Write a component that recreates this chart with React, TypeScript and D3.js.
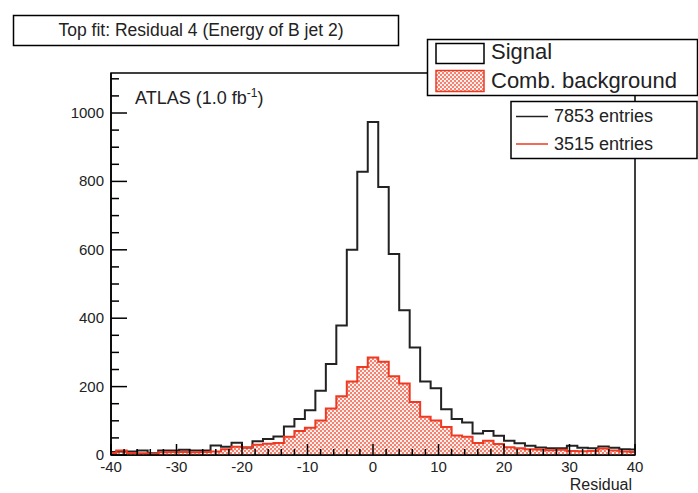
import React from "react";
import * as d3 from "d3";

// histogram: 51 bins of width 1.6, centred on -40 ... 40
const binWidth = 1.6;
const firstCenter = -40;

const signal = [
  9, 10, 10, 13, 5, 13, 13, 15, 13, 13, 28, 24, 36, 22, 40, 47, 54, 83, 105,
  131, 188, 266, 379, 600, 828, 974, 784, 588, 423, 314, 215, 195, 134, 105,
  95, 63, 70, 56, 42, 34, 27, 22, 20, 20, 27, 21, 20, 25, 21, 17, 16,
];

const background = [
  6, 13, 6, 5, 3, 8, 9, 9, 8, 9, 10, 17, 24, 22, 30, 33, 35, 53, 70, 80, 101,
  136, 172, 215, 257, 285, 273, 230, 209, 155, 112, 101, 82, 57, 53, 35, 42,
  32, 23, 20, 17, 16, 14, 15, 12, 11, 12, 19, 13, 10, 9,
];

const xMajor = [-40, -30, -20, -10, 0, 10, 20, 30, 40];
const yMajor = [0, 200, 400, 600, 800, 1000];

const titleText = "Top fit: Residual 4 (Energy of B jet 2)";
const legendItems = ["Signal", "Comb. background"];
const entryItems = ["7853 entries", "3515 entries"];

const W = 698;
const H = 493;
const frame = { left: 111, right: 635, top: 73, bottom: 455 };
const font = "'Liberation Sans', Arial, Helvetica, sans-serif";
const red = "#ee3a22";

const x = d3.scaleLinear().domain([-40, 40]).range([frame.left, frame.right]);
const y = d3.scaleLinear().domain([0, 1117]).range([frame.bottom, frame.top]);

const clip = (v: number) => Math.max(-40, Math.min(40, v));
const lo = (i: number) => clip(firstCenter + binWidth * i - binWidth / 2);
const hi = (i: number) => clip(firstCenter + binWidth * i + binWidth / 2);

function stepPath(vals: number[]) {
  let d = `M${x(lo(0))},${y(vals[0])}`;
  vals.forEach((v, i) => {
    d += `H${x(hi(i))}`;
    if (i < vals.length - 1) d += `V${y(vals[i + 1])}`;
  });
  return d;
}

function areaPath(vals: number[]) {
  return (
    `M${x(lo(0))},${y(0)}V${y(vals[0])}` +
    stepPath(vals).replace(/^M[^H]*/, "") +
    `V${y(0)}Z`
  );
}

export default function App() {
  const xMinor = d3.range(-40, 40.01, 2).filter((v) => !xMajor.includes(v));
  const yMinor = d3.range(0, 1101, 50).filter((v) => !yMajor.includes(v));

  return (
    <svg
      width={W}
      height={H}
      style={{ position: "absolute", left: 0, top: 0, background: "#fff" }}
      fontFamily={font}
    >
      <defs>
        <pattern id="dots" width="4" height="4" patternUnits="userSpaceOnUse">
          <rect width="4" height="4" fill="#f4806e" />
          <circle cx="1" cy="1" r="1.1" fill="#fff" />
          <circle cx="3" cy="3" r="1.1" fill="#fff" />
        </pattern>
      </defs>

      {/* title */}
      <rect x={13.5} y={15.5} width={385} height={30} fill="#fff" stroke="#000" strokeWidth={1.5} />
      <text x={201} y={36} fontSize={17.5} textAnchor="middle" fill="#222">
        {titleText}
      </text>

      {/* frame */}
      <rect
        x={frame.left}
        y={frame.top}
        width={frame.right - frame.left}
        height={frame.bottom - frame.top}
        fill="none"
        stroke="#000"
        strokeWidth={1.5}
      />

      {/* histograms */}
      <path d={areaPath(background)} fill="url(#dots)" stroke="none" />
      <path d={stepPath(signal)} fill="none" stroke="#222" strokeWidth={2} />
      <path d={stepPath(background)} fill="none" stroke={red} strokeWidth={2} />

      {/* x axis */}
      <line x1={frame.left} x2={frame.right} y1={frame.bottom} y2={frame.bottom} stroke="#000" strokeWidth={1.5} />
      {xMajor.map((v) => (
        <g key={`xm${v}`}>
          <line x1={x(v)} x2={x(v)} y1={frame.bottom} y2={frame.bottom - 11} stroke="#000" strokeWidth={1.5} />
          <text x={x(v)} y={472} fontSize={15} textAnchor="middle" fill="#222">
            {v}
          </text>
        </g>
      ))}
      {xMinor.map((v) => (
        <line key={`xn${v}`} x1={x(v)} x2={x(v)} y1={frame.bottom} y2={frame.bottom - 6} stroke="#000" strokeWidth={1.5} />
      ))}
      <text x={632} y={490} fontSize={16} textAnchor="end" fill="#222">
        Residual
      </text>

      {/* y axis */}
      <line x1={frame.left} x2={frame.left} y1={frame.top} y2={frame.bottom} stroke="#000" strokeWidth={1.5} />
      {yMajor.map((v) => (
        <g key={`ym${v}`}>
          <line x1={frame.left} x2={frame.left + 16} y1={y(v)} y2={y(v)} stroke="#000" strokeWidth={1.5} />
          <text x={104} y={y(v) + 5} fontSize={15} textAnchor="end" fill="#222">
            {v}
          </text>
        </g>
      ))}
      {yMinor.map((v) => (
        <line key={`yn${v}`} x1={frame.left} x2={frame.left + 8} y1={y(v)} y2={y(v)} stroke="#000" strokeWidth={1.5} />
      ))}

      {/* ATLAS label */}
      <text x={135} y={104} fontSize={18} fill="#222">
        ATLAS (1.0 fb
        <tspan fontSize={12} dy={-7}>-1</tspan>
        <tspan dy={7}>)</tspan>
      </text>

      {/* legend */}
      <rect x={427.5} y={39.5} width={270} height={56} fill="#fff" stroke="#000" strokeWidth={1.5} />
      <rect x={436} y={43.5} width={48} height={20} fill="#fff" stroke="#000" strokeWidth={1.5} />
      <rect x={436} y={70.5} width={48} height={21} fill="url(#dots)" stroke={red} strokeWidth={1.5} />
      <text x={491} y={59} fontSize={22} fill="#222">
        {legendItems[0]}
      </text>
      <text x={491} y={88} fontSize={22} fill="#222">
        {legendItems[1]}
      </text>

      <rect x={511} y={101.5} width={186} height={57} fill="#fff" stroke="#000" strokeWidth={1.5} />
      <line x1={516} x2={548} y1={116.5} y2={116.5} stroke="#222" strokeWidth={1.5} />
      <line x1={516} x2={548} y1={144} y2={144} stroke={red} strokeWidth={1.5} />
      <text x={554} y={122} fontSize={18} fill="#222">
        {entryItems[0]}
      </text>
      <text x={554} y={150} fontSize={18} fill="#222">
        {entryItems[1]}
      </text>
    </svg>
  );
}
